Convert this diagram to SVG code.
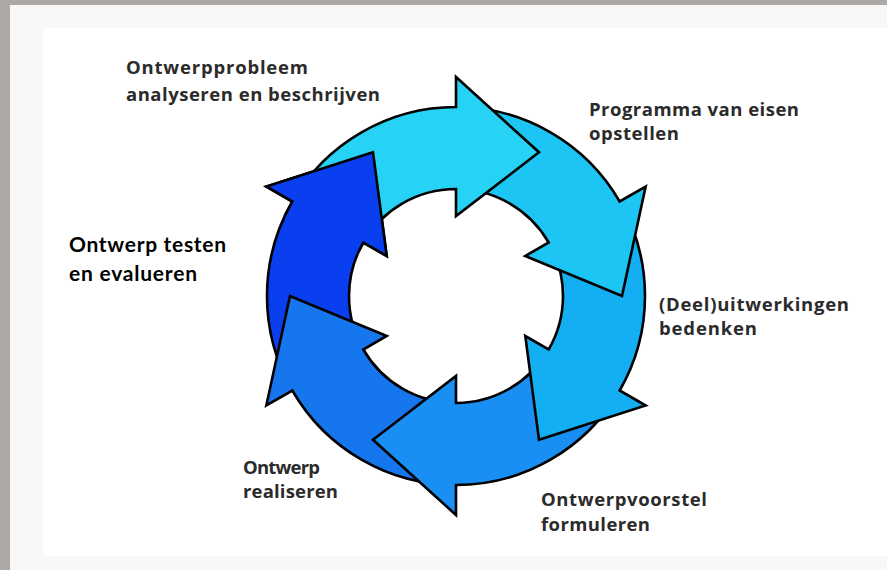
<svg xmlns="http://www.w3.org/2000/svg" xmlns:xlink="http://www.w3.org/1999/xlink" width="887" height="570" viewBox="0 0 887 570">
  <style>
    .arr { stroke: #000; stroke-width: 2.6; stroke-linejoin: miter; stroke-miterlimit: 10; }
    .lbl { font-family: "Open Sans", "DejaVu Sans", sans-serif; font-weight: 700; font-size: 18.5px; fill: #2b2b2b; }
    .lbl2 { font-family: Lato, "Open Sans", sans-serif; font-weight: 700; font-size: 21px; fill: #000; }
  </style>
  <defs>
    <clipPath id="wedge6">
      <polygon points="456,296 184.1,169.2 353.4,14.1"/>
    </clipPath>
  </defs>

  <!-- frame -->
  <rect x="0" y="0" width="887" height="570" fill="#aba8a6"/>
  <rect x="10" y="5" width="877" height="565" fill="#f8f8f8"/>
  <rect x="43" y="28" width="844" height="528" fill="#ffffff"/>

  <!-- connectors: the six cycle arrows -->
  <g id="arrows">
    <path id="a6" class="arr" fill="#0a3ff0" d="M292.33,390.5 A189,189 0 0 1 292.33,201.5 L266.34,186.5 L373,152.24 L386.72,256 L363.34,242.5 A107,107 0 0 0 363.34,349.5 Z"/>
    <path id="a5" class="arr" fill="#1576ee" d="M456,485 A189,189 0 0 1 292.33,390.5 L266.34,405.5 L290,296 L386.72,336 L363.34,349.5 A107,107 0 0 0 456,403 Z"/>
    <path id="a4" class="arr" fill="#1a8ff3" d="M619.67,390.5 A189,189 0 0 1 456,485 L456,515 L373,439.76 L456,376 L456,403 A107,107 0 0 0 548.66,349.5 Z"/>
    <path id="a3" class="arr" fill="#14aef2" d="M619.67,201.5 A189,189 0 0 1 619.67,390.5 L645.66,405.5 L539,439.76 L525.28,336 L548.66,349.5 A107,107 0 0 0 548.66,242.5 Z"/>
    <path id="a2" class="arr" fill="#1cc5f3" d="M456,107 A189,189 0 0 1 619.67,201.5 L645.66,186.5 L622,296 L525.28,256 L548.66,242.5 A107,107 0 0 0 456,189 Z"/>
    <path id="a1" class="arr" fill="#27d3f4" d="M292.33,201.5 A189,189 0 0 1 456,107 L456,77 L539,152.24 L456,216 L456,189 A107,107 0 0 0 363.34,242.5 Z"/>
    <use xlink:href="#a6" clip-path="url(#wedge6)"/>
  </g>

  <g id="step1">
    <text class="lbl" x="126" y="74" textLength="182">Ontwerpprobleem</text>
    <text class="lbl" x="126" y="101" textLength="254">analyseren en beschrijven</text>
  </g>
  <g id="step2">
    <text class="lbl" x="589" y="116" textLength="210">Programma van eisen</text>
    <text class="lbl" x="589" y="140" textLength="90">opstellen</text>
  </g>
  <g id="step3">
    <text class="lbl" x="659" y="311" textLength="190">(Deel)uitwerkingen</text>
    <text class="lbl" x="659" y="335" textLength="98">bedenken</text>
  </g>
  <g id="step4">
    <text class="lbl" x="541" y="506" textLength="166">Ontwerpvoorstel</text>
    <text class="lbl" x="541" y="531" textLength="109">formuleren</text>
  </g>
  <g id="step5">
    <text class="lbl" x="243" y="474" textLength="77">Ontwerp</text>
    <text class="lbl" x="243" y="498" textLength="95">realiseren</text>
  </g>
  <g id="step6">
    <text class="lbl2" x="69" y="252" textLength="157">Ontwerp testen</text>
    <text class="lbl2" x="69" y="281" textLength="128">en evalueren</text>
  </g>
</svg>
